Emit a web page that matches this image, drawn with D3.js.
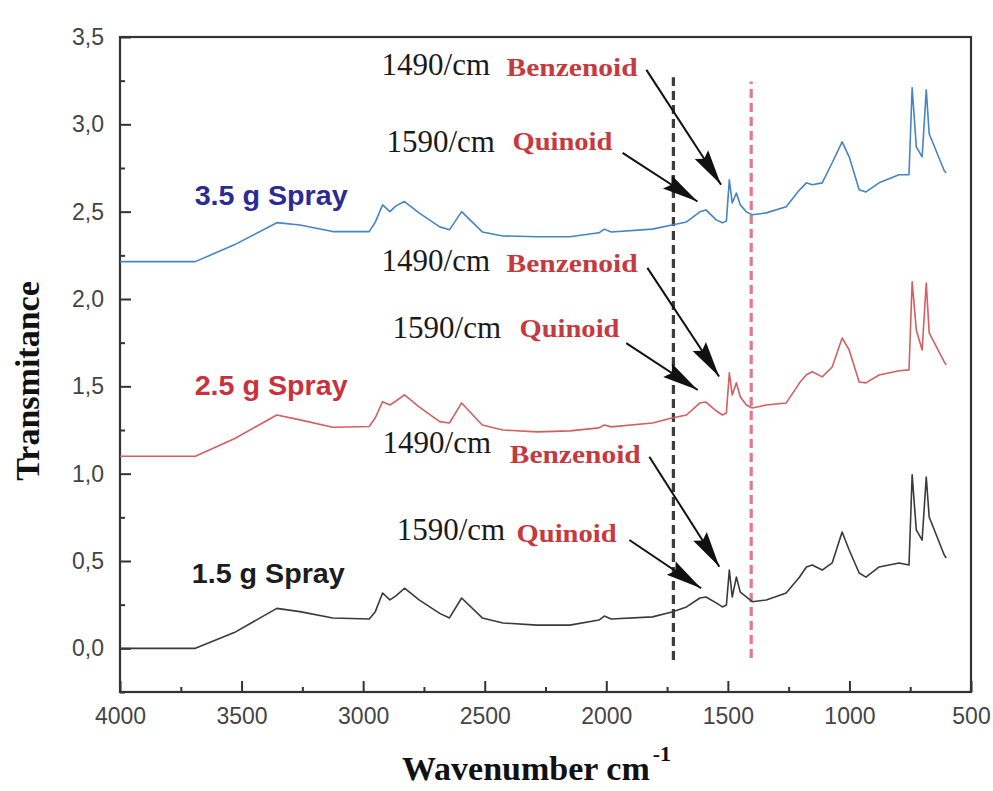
<!DOCTYPE html>
<html>
<head>
<meta charset="utf-8">
<script src="https://cdn.jsdelivr.net/npm/d3@7"></script>
<style>
  html, body { margin: 0; padding: 0; background: #fff; }
  svg { display: block; }
  .tick text { font-family: "Liberation Sans", Arial, sans-serif; font-size: 23px; fill: #444; }
</style>
</head>
<body>
<div id="chart"></div>
<script>
// wavenumbers (cm-1) shared by the three spectra
const wavenumbers = [4000, 3690, 3530, 3355, 3260, 3125, 2975, 2950, 2920, 2890, 2865, 2830, 2770, 2685, 2645, 2595,
  2510, 2425, 2285, 2150, 2030, 2008, 1980, 1810, 1730, 1670, 1615, 1590, 1548, 1522, 1506, 1494, 1482, 1465, 1449,
  1424, 1400, 1342, 1260, 1205, 1177, 1153, 1112, 1071, 1030, 1001, 960, 932, 878, 796, 755, 742, 725, 701, 684, 672,
  610, 602]

const spray15 = [0.0, 0.0, 0.09, 0.229, 0.21, 0.174, 0.168, 0.21, 0.317, 0.277, 0.30, 0.344, 0.277, 0.20, 0.174, 0.288,
  0.174, 0.145, 0.133, 0.133, 0.162, 0.185, 0.168, 0.18, 0.208, 0.237, 0.288, 0.294, 0.26, 0.237, 0.248, 0.448, 0.294,
  0.408, 0.322, 0.294, 0.267, 0.277, 0.317, 0.408, 0.466, 0.477, 0.448, 0.489, 0.666, 0.563, 0.431, 0.408, 0.466,
  0.489, 0.477, 0.993, 0.678, 0.62, 0.981, 0.752, 0.534, 0.517]

const spray25 = [1.10, 1.10, 1.20, 1.336, 1.308, 1.266, 1.27, 1.32, 1.412, 1.393, 1.416, 1.451, 1.382, 1.298, 1.29, 1.405,
  1.279, 1.25, 1.239, 1.245, 1.262, 1.279, 1.268, 1.29, 1.319, 1.336, 1.405, 1.41, 1.36, 1.336, 1.348, 1.577, 1.45,
  1.52, 1.44, 1.393, 1.376, 1.393, 1.405, 1.52, 1.566, 1.583, 1.554, 1.611, 1.777, 1.708, 1.525, 1.52, 1.565, 1.589,
  1.594, 2.098, 1.823, 1.708, 2.092, 1.806, 1.64, 1.622]

const spray35 = [2.214, 2.214, 2.31, 2.437, 2.424, 2.386, 2.386, 2.44, 2.539, 2.50, 2.533, 2.558, 2.493, 2.413, 2.396, 2.50,
  2.384, 2.361, 2.356, 2.356, 2.379, 2.40, 2.384, 2.40, 2.424, 2.441, 2.499, 2.51, 2.453, 2.436, 2.447, 2.682, 2.55,
  2.607, 2.539, 2.499, 2.482, 2.493, 2.528, 2.625, 2.665, 2.654, 2.665, 2.78, 2.90, 2.814, 2.625, 2.613, 2.665, 2.711,
  2.711, 3.209, 2.871, 2.814, 3.197, 2.946, 2.734, 2.722]

const seriesNames = ["1.5 g Spray", "2.5 g Spray", "3.5 g Spray"]
const seriesColors = ["#3a3a3a", "#d35f62", "#4585c4"]
const labelColors = ["#1c1c1c", "#c8323c", "#2b2b94"]
// label anchor (wavenumber, value) for each series name
const labelWn = [3705, 3693, 3693]
const labelVal = [0.374, 1.451, 2.539]

const xTicks = [4000, 3500, 3000, 2500, 2000, 1500, 1000, 500]
const yTicks = [0, 0.5, 1, 1.5, 2, 2.5, 3, 3.5]

// dashed marker lines: wavenumber, from, to
const markerWn = [1724, 1404]
const markerFrom = [-0.067, -0.055]
const markerTo = [3.27, 3.245]

// peak notes, one row per spectrum (top to bottom)
const noteB = [[2924, 3.283, 2410, 3.275], [2924, 2.161, 2410, 2.155], [2920, 1.119, 2397, 1.061]]
const noteQ = [[2904, 2.843, 2386, 2.854], [2879, 1.777, 2357, 1.783], [2862, 0.62, 2369, 0.61]]
const arrowB = [[1835, 3.312, 1528, 2.654], [1831, 2.178, 1536, 1.556], [1823, 1.097, 1535, 0.467]]
const arrowQ = [[1933, 2.837, 1625, 2.558], [1918, 1.747, 1624, 1.479], [1905, 0.62, 1610, 0.344]]

const W = 993, H = 791
const margin = {top: 37, right: 22, bottom: 99, left: 120}
const width = W - margin.left - margin.right
const height = H - margin.top - margin.bottom

const svg = d3.select("#chart").append("svg")
  .attr("width", W).attr("height", H)

const defs = svg.append("defs")
defs.append("marker")
  .attr("id", "head")
  .attr("markerUnits", "userSpaceOnUse")
  .attr("viewBox", "-38 -9 40 18")
  .attr("refX", 0).attr("refY", 0)
  .attr("markerWidth", 40).attr("markerHeight", 18)
  .attr("orient", "auto")
  .append("path")
  .attr("d", "M0,0 L-36,-8 L-31,0 L-36,8 Z")
  .attr("fill", "#111")

const g = svg.append("g").attr("transform", "translate(" + margin.left + "," + margin.top + ")")

const x = d3.scaleLinear().domain([4000, 500]).range([0, width])
const y = d3.scaleLinear().domain([-0.25, 3.5]).range([height, 0])

const fmt = d => d3.format(".1f")(d).replace(".", ",")

// minor ticks
g.append("g").attr("transform", "translate(0," + height + ")")
  .call(d3.axisBottom(x).tickValues(d3.range(3750, 500, -500)).tickSizeInner(-5).tickSizeOuter(0).tickFormat(""))
g.append("g")
  .call(d3.axisLeft(y).tickValues(d3.range(-0.25, 3.5, 0.5)).tickSizeInner(-5).tickSizeOuter(0).tickFormat(""))

// major axes
g.append("g").attr("class", "xaxis").attr("transform", "translate(0," + height + ")")
  .call(d3.axisBottom(x).tickValues(xTicks).tickSizeInner(-11).tickSizeOuter(0).tickPadding(16).tickFormat(d3.format("d")))
g.append("g").attr("class", "yaxis")
  .call(d3.axisLeft(y).tickValues(yTicks).tickSizeInner(-11).tickSizeOuter(0).tickPadding(16).tickFormat(fmt))

g.selectAll(".tick line").attr("stroke", "#333").attr("stroke-width", 2)
g.selectAll(".domain").attr("stroke", "none")

// frame
g.append("rect")
  .attr("x", 0).attr("y", 0).attr("width", width).attr("height", height)
  .attr("fill", "none").attr("stroke", "#333").attr("stroke-width", 2.2)

// dashed lines
markerWn.forEach((w, i) => {
  g.append("line")
    .attr("x1", x(w)).attr("x2", x(w))
    .attr("y1", y(markerFrom[i])).attr("y2", y(markerTo[i]))
    .attr("stroke", i == 0 ? "#3c3c3c" : "#e07a8c")
    .attr("stroke-width", 3.2)
    .attr("stroke-dasharray", "9,5")
})

// spectra
const line = d3.line().x(d => x(d[0])).y(d => y(d[1]))
const allSeries = [spray15, spray25, spray35]
allSeries.forEach((vals, i) => {
  g.append("path")
    .datum(wavenumbers.map((w, j) => [w, vals[j]]))
    .attr("d", line)
    .attr("fill", "none")
    .attr("stroke", seriesColors[i])
    .attr("stroke-width", 1.6)
    .attr("stroke-linejoin", "round")

  g.append("text")
    .attr("x", x(labelWn[i])).attr("y", y(labelVal[i]))
    .attr("font-family", "'Liberation Sans', Arial, sans-serif")
    .attr("font-weight", "bold")
    .attr("font-size", 28)
    .attr("textLength", 153)
    .attr("lengthAdjust", "spacingAndGlyphs")
    .attr("fill", labelColors[i])
    .text(seriesNames[i])
})

// peak notes
function note(row, num, name, nameLen){
  g.append("text")
    .attr("x", x(row[0])).attr("y", y(row[1]))
    .attr("font-family", "'Liberation Serif', 'Times New Roman', serif")
    .attr("font-size", 31)
    .attr("fill", "#1a1a1a")
    .text(num)
  g.append("text")
    .attr("x", x(row[2])).attr("y", y(row[3]))
    .attr("font-family", "'Liberation Serif', 'Times New Roman', serif")
    .attr("font-weight", "bold")
    .attr("font-size", 26)
    .attr("textLength", nameLen)
    .attr("lengthAdjust", "spacingAndGlyphs")
    .attr("fill", "#c63a3f")
    .text(name)
}
function arrow(a){
  g.append("line")
    .attr("x1", x(a[0])).attr("y1", y(a[1]))
    .attr("x2", x(a[2])).attr("y2", y(a[3]))
    .attr("stroke", "#111").attr("stroke-width", 2)
    .attr("marker-end", "url(#head)")
}
for (let i = 0; i < 3; i++){
  note(noteB[i], "1490/cm", "Benzenoid", 131)
  note(noteQ[i], "1590/cm", "Quinoid", 100)
  arrow(arrowB[i])
  arrow(arrowQ[i])
}

// axis titles
svg.append("text")
  .attr("transform", "translate(39," + 381 + ") rotate(-90)")
  .attr("text-anchor", "middle")
  .attr("font-family", "'Liberation Serif', 'Times New Roman', serif")
  .attr("font-weight", "bold")
  .attr("font-size", 34)
  .attr("fill", "#111")
  .text("Transmitance")

const xt = svg.append("text")
  .attr("x", 402).attr("y", 780)
  .attr("font-family", "'Liberation Serif', 'Times New Roman', serif")
  .attr("font-weight", "bold")
  .attr("font-size", 34)
  .attr("fill", "#111")
xt.append("tspan").text("Wavenumber cm")
xt.append("tspan").attr("font-size", 22).attr("dy", -19).attr("dx", 3).text("-1")
</script>
</body>
</html>
